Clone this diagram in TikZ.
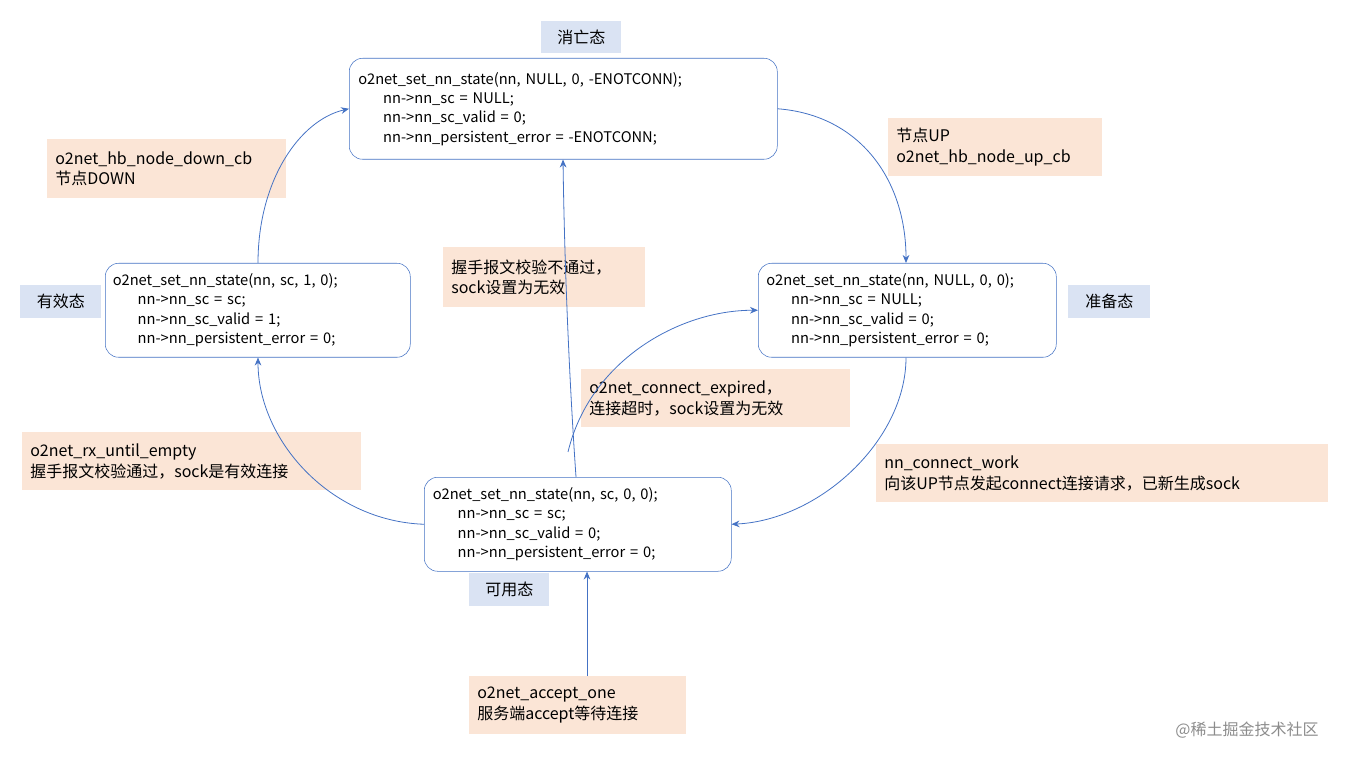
\documentclass[tikz,border=0pt]{standalone}
\usepackage{fontspec}
\setmainfont{Noto Sans CJK SC}
\usetikzlibrary{arrows.meta}
\definecolor{ln}{HTML}{4472C4}
\definecolor{bl}{HTML}{DAE3F3}
\definecolor{og}{HTML}{FBE5D6}
\begin{document}
\begin{tikzpicture}[x=0.75pt,y=-0.75pt,
 st/.style={draw=ln,rounded corners=10pt,fill=white,anchor=north west,align=left,font=\fontsize{11}{14.5}\selectfont,inner sep=0pt},
 lab/.style={fill=bl,anchor=north west,font=\fontsize{12}{14}\selectfont,inner sep=0pt,align=center},
 note/.style={fill=og,anchor=north west,font=\fontsize{12}{15.5}\selectfont,inner ysep=0pt,inner xsep=8*0.75pt,align=left},
 ar/.style={draw=ln,-{Stealth[length=6pt,width=5pt]},line width=0.6pt}]
\useasboundingbox (0,0) rectangle (1348,762);
\newcommand{\ind}{\hspace*{1.7em}}
% states
\node[st,minimum width=428*0.75pt,minimum height=101*0.75pt,text width=410*0.75pt] (top) at (349,58) {o2net\_set\_nn\_state(nn, NULL, 0, -ENOTCONN);\\\ind nn->nn\_sc = NULL;\\\ind nn->nn\_sc\_valid = 0;\\\ind nn->nn\_persistent\_error = -ENOTCONN;};
\node[st,minimum width=305*0.75pt,minimum height=94*0.75pt,text width=290*0.75pt] (left) at (105,263) {o2net\_set\_nn\_state(nn, sc, 1, 0);\\\ind nn->nn\_sc = sc;\\\ind nn->nn\_sc\_valid = 1;\\\ind nn->nn\_persistent\_error = 0;};
\node[st,minimum width=298*0.75pt,minimum height=94*0.75pt,text width=282*0.75pt] (right) at (758,263) {o2net\_set\_nn\_state(nn, NULL, 0, 0);\\\ind nn->nn\_sc = NULL;\\\ind nn->nn\_sc\_valid = 0;\\\ind nn->nn\_persistent\_error = 0;};
\node[st,minimum width=307*0.75pt,minimum height=94*0.75pt,text width=290*0.75pt] (bot) at (424,477) {o2net\_set\_nn\_state(nn, sc, 0, 0);\\\ind nn->nn\_sc = sc;\\\ind nn->nn\_sc\_valid = 0;\\\ind nn->nn\_persistent\_error = 0;};
% labels
\node[lab,minimum width=80*0.75pt,minimum height=32*0.75pt] (l1) at (541,21) {消亡态};
\node[lab,minimum width=81*0.75pt,minimum height=33*0.75pt] (l2) at (20,285) {有效态};
\node[lab,minimum width=82*0.75pt,minimum height=33*0.75pt] (l3) at (1068,285) {准备态};
\node[lab,minimum width=80*0.75pt,minimum height=33*0.75pt] (l4) at (469,573) {可用态};
% notes
\node[note,text width=223*0.75pt,minimum height=59*0.75pt] (n1) at (47,139) {o2net\_hb\_node\_down\_cb\\节点DOWN};
\node[note,text width=198*0.75pt,minimum height=58*0.75pt] (n2) at (888,118) {节点UP\\o2net\_hb\_node\_up\_cb};
\node[note,text width=186*0.75pt,minimum height=60*0.75pt] (n3) at (443,247) {握手报文校验不通过，\\sock设置为无效};
\node[note,text width=253*0.75pt,minimum height=58*0.75pt] (n4) at (581,369) {o2net\_connect\_expired，\\连接超时，sock设置为无效};
\node[note,text width=323*0.75pt,minimum height=58*0.75pt] (n5) at (22,432) {o2net\_rx\_until\_empty\\握手报文校验通过，sock是有效连接};
\node[note,text width=436*0.75pt,minimum height=58*0.75pt] (n6) at (876,444) {nn\_connect\_work\\向该UP节点发起connect连接请求，已新生成sock};
\node[note,text width=201*0.75pt,minimum height=58*0.75pt] (n7) at (469,676) {o2net\_accept\_one\\服务端accept等待连接};
\node[font=\fontsize{12}{14}\selectfont,text=black!45,anchor=center] (wm) at (1247,730) {@稀土掘金技术社区};
% arrows
\coordinate (a1) at (258,263);
\path[ar] (left.north-|a1) .. controls (258,180) and (300,120) .. (top.west);
\coordinate (a2) at (906,263);
\path[ar] (top.east) .. controls (860,115) and (906,180) .. (right.north-|a2);
\path[ar] (right.south-|a2) .. controls (906,440) and (820,520) .. (bot.east);
\path[ar] (bot.west) .. controls (330,521) and (258,440) .. (left.south-|a1);
\coordinate (a3) at (576,477);
\coordinate (a4) at (563,159);
\path[ar] (bot.north-|a3) .. controls (572,420) and (565,300) .. (top.south-|a4);
\path[ar] (568,452) .. controls (590,360) and (680,310) .. (right.west);
\coordinate (a5) at (587,676);
\path[ar] (n7.north-|a5) -- (bot.south-|a5);
\end{tikzpicture}
\end{document}
